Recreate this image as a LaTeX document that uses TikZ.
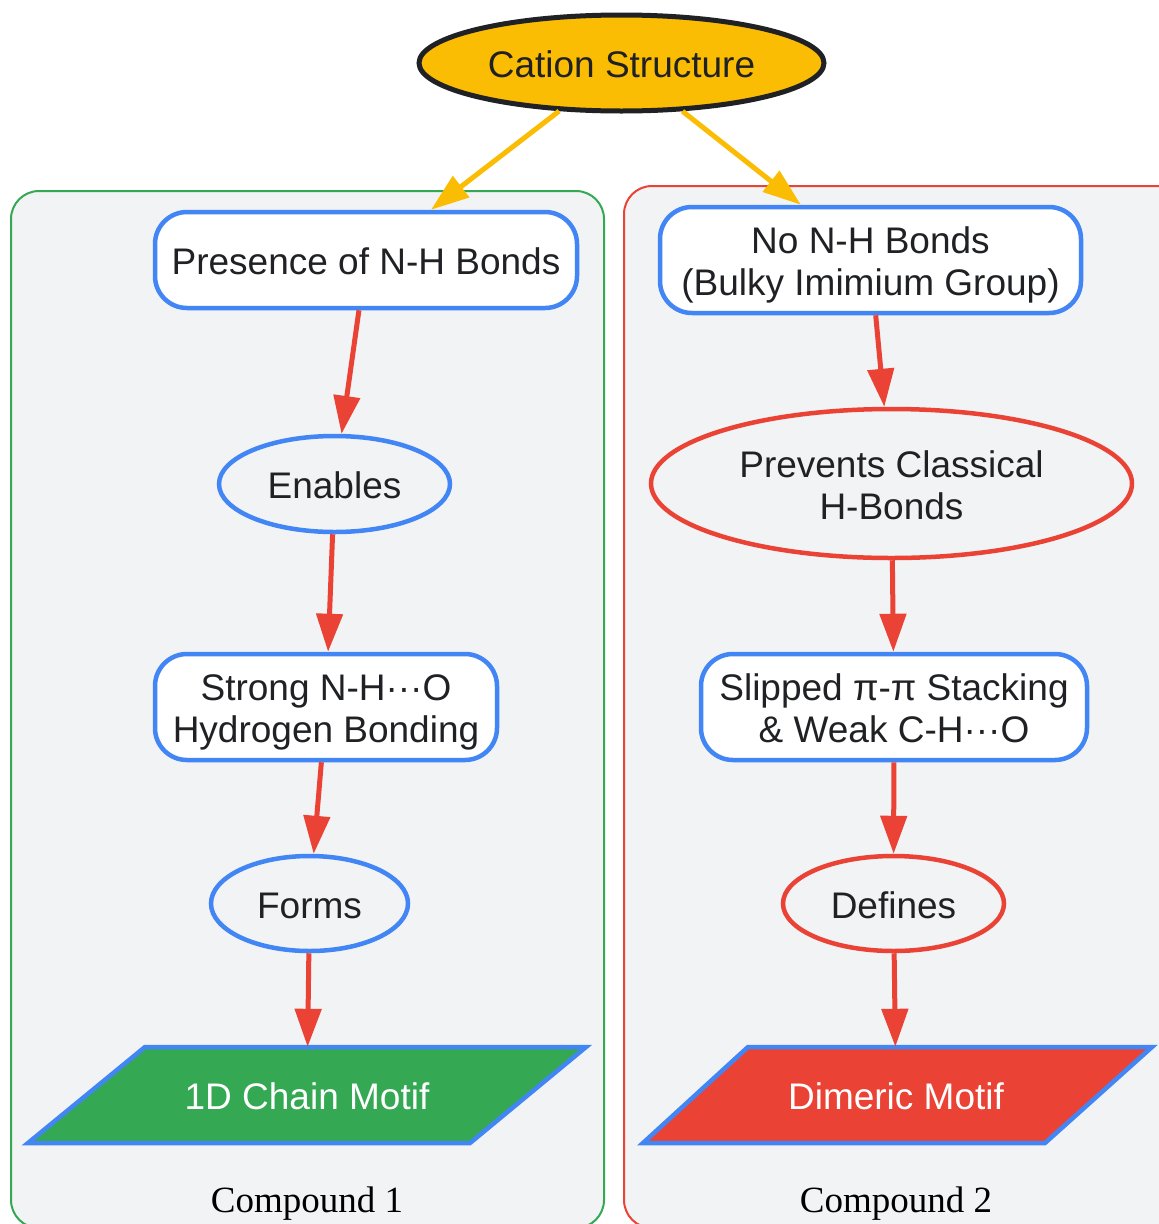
\documentclass[tikz,border=0pt]{standalone}
\usepackage{fontspec}
\setmainfont{Liberation Sans}
\newfontfamily\seriffont{Liberation Serif}
\usetikzlibrary{arrows.meta,shapes.geometric}
\definecolor{gyellow}{HTML}{FBBC04}
\definecolor{gdark}{HTML}{202124}
\definecolor{gblue}{HTML}{4285F4}
\definecolor{gred}{HTML}{EA4335}
\definecolor{ggreen}{HTML}{34A853}
\definecolor{gbg}{HTML}{F1F3F4}
\newcommand\ltxt[1]{\rule[-3.4pt]{0pt}{36.4pt}\smash{#1}}
\tikzset{
  txt/.style={font=\fontsize{37}{42}\selectfont, text=gdark, align=center, inner sep=0pt},
  boxnode/.style={txt, draw=gblue, line width=4.5pt, fill=white, rectangle, rounded corners=32pt},
  ovalnode/.style={txt, ellipse, line width=4.5pt, fill=gbg},
  cluster/.style={line width=2pt, fill=gbg, rounded corners=28pt},
  flow/.style={line width=5pt, draw=gred, -{Triangle[length=38pt,width=26pt]}},
  yflow/.style={line width=5pt, draw=gyellow, -{Triangle[length=38pt,width=26pt]}},
  motif/.style={txt, text=white, minimum width=440pt, minimum height=96pt},
  cmplabel/.style={font=\seriffont\fontsize{37}{40}\selectfont, text=black, inner sep=0pt, anchor=base}
}
\begin{document}
\begin{tikzpicture}[x=1pt,y=-1pt]
\useasboundingbox (0,0) rectangle (1159,1224);
\clip (0,0) rectangle (1159,1224);
\fill[white] (0,0) rectangle (1159,1224);
% clusters
\draw[cluster, draw=ggreen] (11,191) rectangle (604,1228);
\draw[cluster, draw=gred] (624,186) rectangle (1200,1228);
\node[cmplabel] (c1) at (307,1212) {Compound 1};
\node[cmplabel] (c2) at (896,1212) {Compound 2};
% top node
\node[txt, ellipse, draw=gdark, fill=gyellow, line width=5pt, minimum width=405pt, minimum height=96pt] (cat) at (621.5,63) {\ltxt{Cation Structure}};
% left column
\node[boxnode, minimum width=422pt, minimum height=96pt] (pres) at (366,260) {\ltxt{Presence of N-H Bonds}};
\node[ovalnode, draw=gblue, minimum width=231pt, minimum height=96pt] (enab) at (334.5,484) {\ltxt{Enables}};
\node[boxnode, minimum width=342pt, minimum height=106pt] (strong) at (326,707) {\ltxt{Strong N-H···O}\\\ltxt{Hydrogen Bonding}};
\node[ovalnode, draw=gblue, minimum width=197pt, minimum height=95pt] (forms) at (309.5,903.5) {\ltxt{Forms}};
\fill[ggreen] (145,1047) -- (586,1047) -- (470,1143) -- (28,1143) -- cycle;
\draw[gblue, line width=4.5pt, line join=miter] (145,1047) -- (586,1047) -- (470,1143) -- (28,1143) -- cycle;
\node[motif] (chain) at (307,1095) {\ltxt{1D Chain Motif}};
% right column
\node[boxnode, minimum width=421pt, minimum height=106pt] (nonh) at (870.5,260) {\ltxt{No N-H Bonds}\\\ltxt{(Bulky Imimium Group)}};
\node[ovalnode, draw=gred, minimum width=481pt, minimum height=149pt] (prev) at (891.5,483.5) {\ltxt{Prevents Classical}\\\ltxt{H-Bonds}};
\node[boxnode, minimum width=386pt, minimum height=106pt] (slip) at (894,707) {\ltxt{Slipped π-π Stacking}\\\ltxt{\& Weak C-H···O}};
\node[ovalnode, draw=gred, minimum width=221pt, minimum height=95pt] (defs) at (893.5,903.5) {\ltxt{Defines}};
\fill[gred] (748,1047) -- (1152,1047) -- (1045,1143) -- (643,1143) -- cycle;
\draw[gblue, line width=4.5pt, line join=miter] (748,1047) -- (1152,1047) -- (1045,1143) -- (643,1143) -- cycle;
\node[motif, minimum width=400pt] (dimer) at (896,1095) {\ltxt{Dimeric Motif}};
% connectors
\draw[yflow] (cat) -- (pres);
\draw[yflow] (cat) -- (nonh);
\draw[flow] (pres) -- (enab);
\draw[flow] (enab) -- (strong);
\draw[flow] (strong) -- (forms);
\draw[flow] (forms) -- (chain);
\draw[flow] (nonh) -- (prev);
\draw[flow] (prev) -- (slip);
\draw[flow] (slip) -- (defs);
\draw[flow] (defs) -- (dimer);
\end{tikzpicture}
\end{document}
